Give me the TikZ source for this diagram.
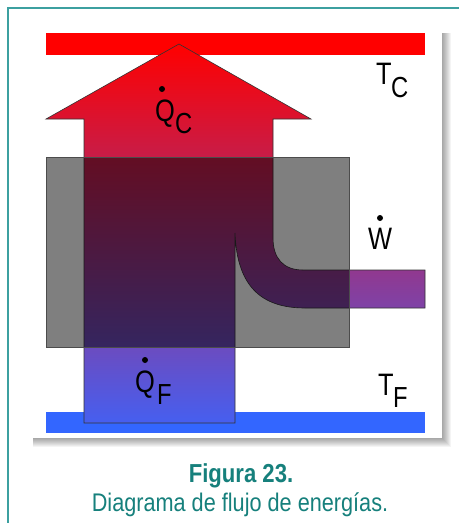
\documentclass[tikz,border=0pt]{standalone}
\usepackage{fontspec}
\setmainfont{Liberation Sans}
\newfontfamily\capfont[FakeStretch=0.85]{Liberation Sans}
\newfontfamily\lblfont[FakeStretch=0.82]{Liberation Sans}
\definecolor{teal1}{RGB}{60,160,160}
\definecolor{captxt}{RGB}{22,128,124}
\definecolor{hotred}{RGB}{255,0,0}
\definecolor{coldblue}{RGB}{70,95,240}
\definecolor{barblue}{RGB}{51,102,255}
\begin{document}
\begin{tikzpicture}[x=1pt,y=-1pt,
  lbl/.style={inner sep=0pt, anchor=base west, font=\lblfont\fontsize{31}{31}\selectfont},
  sublbl/.style={inner sep=0pt, anchor=base west, font=\lblfont\fontsize{29}{29}\selectfont},
  dotmark/.style={fill=black},
  captitle/.style={inner sep=0pt, anchor=base, text=captxt, font=\capfont\bfseries\fontsize{26}{26}\selectfont},
  captext/.style={inner sep=0pt, anchor=base, text=captxt, font=\capfont\fontsize{25.5}{25.5}\selectfont}]
\useasboundingbox (0,0) rectangle (459,523);
\fill[white] (0,0) rectangle (459,523);
\draw[teal1, line width=1.5pt] (8,523) -- (8,8) -- (459,8);
% panel shadow
\foreach \d in {1,...,9}
  \fill[black, opacity=0.045] (33,33) rectangle (442+\d, 438+\d);
\fill[white] (30,28) rectangle (442,438);
% reservoirs
\fill[hotred] (46,33) rectangle (425,55);
\fill[barblue] (46,412) rectangle (425,433);
% energy flow arrow
\shadedraw[top color=hotred, bottom color=coldblue, draw=black!80, line width=0.6pt]
  (179,44) -- (311,119) -- (273,119) -- (273,238)
  .. controls (273,258) and (283,270) .. (303,270) -- (425,270) -- (425,308) -- (305,308)
  .. controls (260,308) and (237,285) .. (235,233) -- (235,423) -- (84,423) -- (84,119)
  -- (46,119) -- cycle;
% engine box
\filldraw[fill=black, fill opacity=0.5, draw=black!70, line width=0.5pt] (46,157) rectangle (349,347);
% labels
\node[lbl] (qc) at (155,121) {Q};
\node[sublbl] (qcs) at (175,133) {C};
\fill[dotmark] (162,89) circle (3);
\node[lbl] (tc) at (376,84) {T};
\node[sublbl] (tcs) at (391,97) {C};
\node[lbl] (w) at (368,249) {W};
\fill[dotmark] (380,218) circle (3);
\node[lbl] (qf) at (135,392) {Q};
\node[sublbl] (qfs) at (157,404) {F};
\fill[dotmark] (145,360) circle (3);
\node[lbl] (tf) at (378,395) {T};
\node[sublbl] (tfs) at (393,407) {F};
% caption
\node[captitle] (fig) at (241,482) {Figura 23.};
\node[captext] (desc) at (240,511) {Diagrama de flujo de energías.};
\end{tikzpicture}
\end{document}
